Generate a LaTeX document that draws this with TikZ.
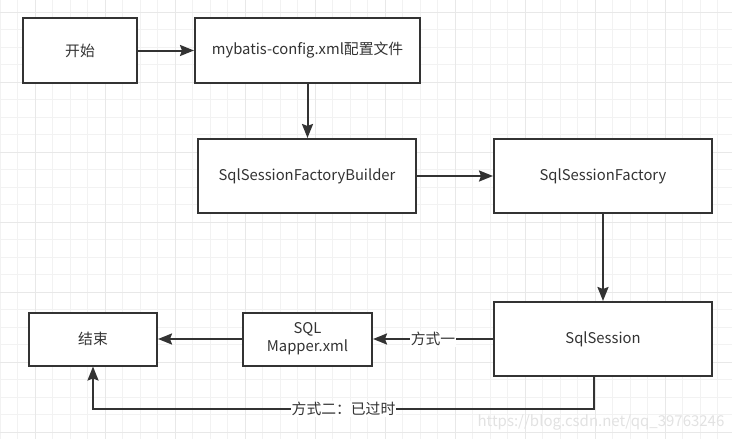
\documentclass[tikz,border=0pt]{standalone}
\usepackage{fontspec}
\setmainfont{Noto Sans CJK SC}
\usetikzlibrary{arrows.meta, positioning, calc}
\definecolor{inkgray}{HTML}{333333}
\definecolor{gridlo}{HTML}{F2F2F2}
\definecolor{gridhi}{HTML}{E8E8E8}
\definecolor{markgray}{HTML}{E2E2E2}
\tikzset{
  stepbox/.style={draw=inkgray, line width=2pt, fill=white, text=inkgray, inner sep=2pt},
  flow/.style={draw=inkgray, line width=2pt, -{Stealth[length=14pt, width=11pt, inset=2pt]}},
  tag/.style={fill=white, text=inkgray, inner sep=1pt},
}

\begin{document}
\begin{tikzpicture}[x=1pt, y=-1pt, font=\fontsize{14.8}{18}\selectfont]
  \useasboundingbox (0,0) rectangle (732,439);
  % grid paper
  \fill[white] (0,0) rectangle (732,439);
  \foreach \x in {0,17.5,...,732}{\draw[gridlo, line width=1pt] (\x,0)--(\x,439);}
  \foreach \y in {12,29.5,...,439}{\draw[gridlo, line width=1pt] (0,\y)--(732,\y);}
  \foreach \x in {35,105,...,732}{\draw[gridhi, line width=1pt] (\x,0)--(\x,439);}
  \foreach \y in {12,82,...,439}{\draw[gridhi, line width=1pt] (0,\y)--(732,\y);}

  \node[stepbox, minimum width=114, minimum height=65] (start) at (80,50.5) {开始};
  \node[stepbox, minimum width=225, minimum height=65] (config) at (307.5,50.5) {mybatis-config.xml配置文件};
  \node[stepbox, minimum width=218, minimum height=74] (builder) at (307,176) {SqlSessionFactoryBuilder};
  \node[stepbox, minimum width=218, minimum height=74] (factory) at (603,176) {SqlSessionFactory};
  \node[stepbox, minimum width=218, minimum height=74] (session) at (603,339) {SqlSession};
  \node[stepbox, minimum width=129, minimum height=53, align=center] (mapper) at (307.5,339) {SQL\\Mapper.xml};
  \node[stepbox, minimum width=128, minimum height=53] (stop) at (93,339) {结束};

  \draw[flow] (start) -- (config);
  \draw[flow] (config.south) -- (config.south |- builder.north);
  \draw[flow] (builder) -- (factory);
  \draw[flow] (factory) -- (session);
  \draw[flow] (session) -- node[tag]{方式一} (mapper);
  \draw[flow] (mapper) -- (stop);
  \draw[flow] ([xshift=-9pt]session.south) -- ++(0,32) -| node[tag, pos=0.25]{方式二：已过时} (stop.south);

  \node[text=markgray, font=\fontsize{15}{18}\selectfont] (mark) at (601,422) {https://blog.csdn.net/qq\_39763246};
\end{tikzpicture}
\end{document}
